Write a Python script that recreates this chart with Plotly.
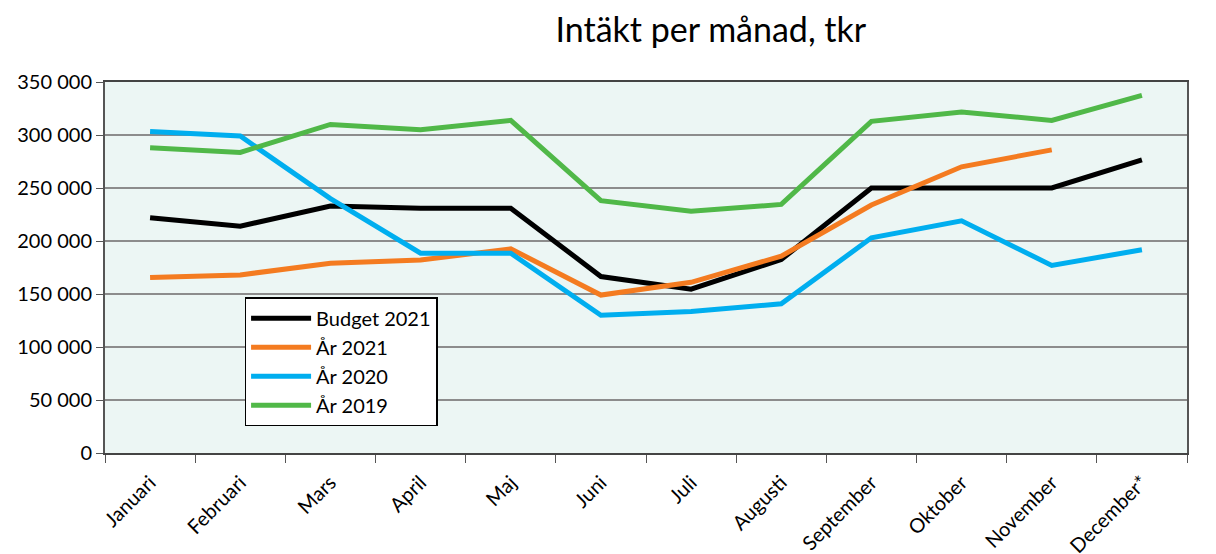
import plotly.graph_objects as go

months = ["Januari", "Februari", "Mars", "April", "Maj", "Juni", "Juli",
          "Augusti", "September", "Oktober", "November", "December*"]

budget_2021 = [222000, 214000, 233000, 231000, 231000, 166500, 154500,
               182500, 250000, 250000, 250000, 276500]
ar_2021 = [165600, 168000, 179000, 182000, 192600, 149000, 161000,
           185700, 234000, 270000, 286000]
ar_2020 = [303400, 299000, 240000, 188500, 188500, 130000, 133500,
           140700, 203000, 219000, 177000, 191700]
ar_2019 = [288000, 283600, 310000, 305000, 313800, 238000, 228000,
           234500, 312900, 321700, 313800, 337400]

series = [
    ("Budget 2021", budget_2021, "#000000"),
    ("År 2021", ar_2021, "#F47B20"),
    ("År 2020", ar_2020, "#00AEEF"),
    ("År 2019", ar_2019, "#50B848"),
]

FONT = "Lato, 'Open Sans', sans-serif"

fig = go.Figure()
for name, vals, color in series:
    fig.add_trace(go.Scatter(
        x=months[:len(vals)], y=vals, name=name, mode="lines",
        line=dict(color=color, width=5),
    ))

fig.update_layout(
    width=1216, height=554,
    margin=dict(l=97, r=37, t=74, b=109),
    paper_bgcolor="white",
    plot_bgcolor="#ECF6F4",
    separators=", ",
    font=dict(family=FONT, size=20, color="black"),
    title=dict(text="Intäkt per månad, tkr", x=0.578, xanchor="center",
               y=0.96, yanchor="middle", font=dict(size=34, family=FONT)),
    showlegend=True,
    legend=dict(x=0.129, y=0.42, xanchor="left", yanchor="top",
                bgcolor="white", bordercolor="black", borderwidth=1.5,
                font=dict(size=20, family=FONT), tracegroupgap=0,
                itemwidth=60),
    xaxis=dict(
        type="category", tickangle=-45, ticks="outside", ticklen=8,
        tickson="boundaries", tickcolor="#555", showgrid=False,
        showline=True, linecolor="#444", linewidth=2,
        tickfont=dict(size=20, family=FONT), range=[-0.5, 11.5],
        ticklabelstandoff=8, automargin=False,
    ),
    yaxis=dict(
        range=[0, 350000], dtick=50000, tickformat=",d",
        ticks="outside", ticklen=7, tickcolor="#555",
        showgrid=True, gridcolor="#8C8C8C", gridwidth=2,
        showline=True, linecolor="#555", linewidth=2, zeroline=False,
        tickfont=dict(size=20, family=FONT), automargin=False,
    ),
)

# frame on top and right of the plot area
fig.update_xaxes(mirror=True)
fig.update_yaxes(mirror=True)

fig.write_html("out.html")
